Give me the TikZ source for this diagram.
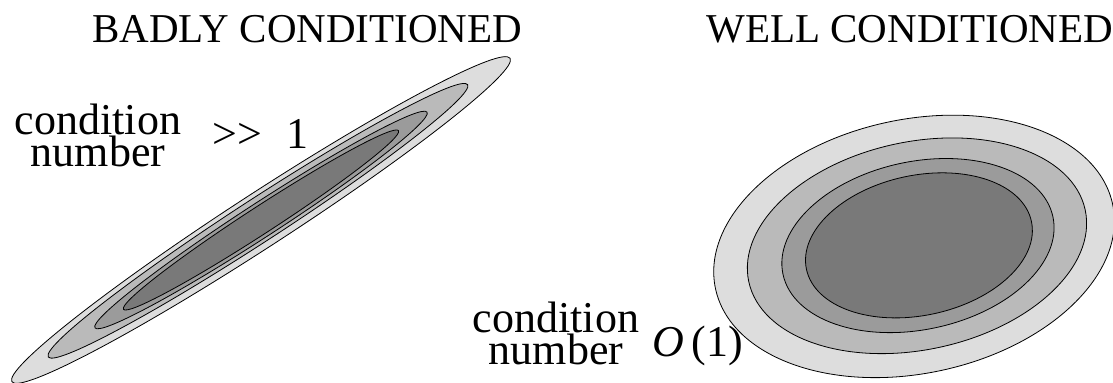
\documentclass[tikz,border=0pt]{standalone}
\usepackage{fontspec}
\setmainfont{Liberation Serif}
\usepackage{tikz}
\usetikzlibrary{positioning}
\definecolor{levelA}{RGB}{221,221,221}
\definecolor{levelB}{RGB}{186,186,186}
\definecolor{levelC}{RGB}{155,155,155}
\definecolor{levelD}{RGB}{121,121,121}

\begin{document}
\begin{tikzpicture}[x=0.5pt,y=0.5pt,
    level/.style={draw=black,line width=0.4pt},
    heading/.style={font=\fontsize{20.5}{24}\selectfont,inner sep=0pt,anchor=base west},
    label/.style={font=\fontsize{22}{16}\selectfont,inner sep=0pt,align=center},
    value/.style={font=\fontsize{22}{26}\selectfont,inner sep=0pt,anchor=base west}]
  \useasboundingbox (0,0) rectangle (1113,383);
  % --- LEFT: badly conditioned ---
  \node[heading] (badTitle) at (92,340) {BADLY CONDITIONED};
  \begin{scope}[shift={(261,163)},rotate=33]
    \draw[level,fill=levelA] (0,0) ellipse [x radius=297,y radius=27];
    \draw[level,fill=levelB] (-3,1) ellipse [x radius=250,y radius=21.5];
    \draw[level,fill=levelC] (0,0) ellipse [x radius=198,y radius=17];
    \draw[level,fill=levelD] (0,0) ellipse [x radius=164,y radius=13.5];
  \end{scope}
  \node[label] (badLabel) at (98,248) {condition\\number};
  \node[value] (badValue) at (212,234) {{>}{>}\hspace{0.55em}1};
  % --- RIGHT: well conditioned ---
  \node[heading] (wellTitle) at (706,340) {WELL CONDITIONED};
  \begin{scope}[shift={(916,137)},rotate=12]
    \draw[level,fill=levelA] (-2,0) ellipse [x radius=203,y radius=127];
    \draw[level,fill=levelB] (1,0) ellipse [x radius=172,y radius=104];
    \draw[level,fill=levelC] (2,0) ellipse [x radius=138,y radius=84];
    \draw[level,fill=levelD] (3,0) ellipse [x radius=115,y radius=70];
  \end{scope}
  \node[label] (wellLabel) at (556,50) {condition\\number};
  \node[value] (wellValue) at (652,26) {\textit{O}\,(1)};
\end{tikzpicture}
\end{document}
